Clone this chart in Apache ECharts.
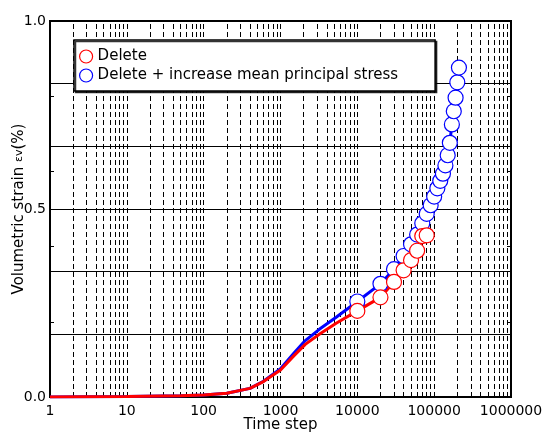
<!DOCTYPE html>
<html>
<head>
<meta charset="utf-8">
<script src="https://cdn.jsdelivr.net/npm/echarts@6/dist/echarts.min.js"></script>
<style>
  html, body { margin: 0; padding: 0; background: #fff; }
  #chart { width: 545px; height: 432px; }
</style>
</head>
<body>
<div id="chart"></div>
<script>
// curve before the markers (time step, volumetric strain %)
const redCurveX = [1, 10, 50, 100, 200, 400, 600, 1000, 1500, 2100, 3200, 5300];
const redCurveY = [0, 0.001, 0.003, 0.005, 0.010, 0.023, 0.041, 0.072, 0.110, 0.140, 0.167, 0.196];
const blueCurveX = [1, 10, 50, 100, 200, 400, 600, 1000, 1500, 2100, 3200, 5300];
const blueCurveY = [0, 0.001, 0.003, 0.005, 0.010, 0.023, 0.042, 0.075, 0.117, 0.150, 0.180, 0.212];

// marked points
const redMarkX = [10000, 20000, 30000, 40000, 50000, 60000, 70000, 80000];
const redMarkY = [0.229, 0.265, 0.306, 0.337, 0.364, 0.389, 0.428, 0.430];
const blueMarkX = [10000, 20000, 30000, 40000, 50000, 60000, 70000, 80000, 90000, 100000,
  110000, 120000, 130000, 140000, 150000, 160000, 170000, 180000, 190000, 200000, 210000];
const blueMarkY = [0.254, 0.301, 0.340, 0.375, 0.406, 0.432, 0.462, 0.487, 0.510, 0.533,
  0.555, 0.575, 0.594, 0.616, 0.643, 0.676, 0.725, 0.760, 0.796, 0.837, 0.876];

const seriesNames = ['Delete', 'Delete + increase mean principal stress'];
const yLabels = [0, 0.5, 1];

// dashed verticals at every log sub-division
const logGrid = [];
for (let d = 1; d < 1000000; d *= 10) {
  for (let k = 1; k <= 9; k++) logGrid.push(k * d);
}

const FONT = 'DejaVu Sans';
const pair = (xs, ys) => xs.map((x, i) => [x, ys[i]]);

const chart = echarts.init(document.getElementById('chart'));

const hiddenY = (extra) => Object.assign({
  type: 'value', min: 0, max: 1,
  axisLine: { show: false },
  axisTick: { show: false },
  axisLabel: { show: false },
  splitLine: { show: false }
}, extra);

chart.setOption({
  animation: false,
  grid: {
    left: 50, right: 34, top: 21, bottom: 35,
    outerBoundsMode: 'none', containLabel: false,
    show: true, borderColor: '#000', borderWidth: 2
  },
  legend: {
    data: [
      { name: seriesNames[0], icon: 'circle' },
      { name: seriesNames[1], icon: 'circle' }
    ],
    orient: 'vertical',
    left: 74, top: 40,
    itemWidth: 13, itemHeight: 13, itemGap: 4,
    padding: [9, 37, 8, 5],
    backgroundColor: '#fff',
    borderColor: '#000', borderWidth: 1.5,
    shadowColor: 'rgba(0,0,0,0.8)', shadowOffsetX: 1.5, shadowOffsetY: 1.5, shadowBlur: 0,
    itemStyle: { borderWidth: 1.2 },
    selectedMode: false,
    textStyle: { color: '#000', fontFamily: FONT, fontSize: 15, lineHeight: 15 }
  },
  xAxis: {
    type: 'log', logBase: 10, min: 1, max: 1000000, splitNumber: 6,
    axisLine: { lineStyle: { color: '#000', width: 2 } },
    axisTick: { show: false },
    splitLine: { show: false },
    axisLabel: {
      color: '#000', fontFamily: FONT, fontSize: 14, margin: 7,
      formatter: v => String(Math.round(v))
    },
    name: 'Time step', nameLocation: 'middle', nameGap: 21, nameMoveOverlap: false,
    nameTextStyle: { color: '#000', fontFamily: FONT, fontSize: 15 }
  },
  yAxis: [
    {
      type: 'value', min: 0, max: 1, interval: 0.5, position: 'left',
      axisLine: { show: true, lineStyle: { color: '#000', width: 2 } },
      axisTick: { show: false },
      splitLine: { show: false },
      axisLabel: {
        color: '#000', fontFamily: FONT, fontSize: 14, margin: 4,
        formatter: v => yLabels.includes(v) ? v.toFixed(1) : ''
      },
      name: 'Volumetric strain {s|εv}(%)', nameLocation: 'middle', nameGap: 23,
      nameMoveOverlap: false,
      nameTextStyle: {
        color: '#000', fontFamily: FONT, fontSize: 15,
        rich: { s: { color: '#000', fontFamily: FONT, fontSize: 11 } }
      }
    },
    hiddenY({ interval: 1 / 6, position: 'left',
      splitLine: { show: true, lineStyle: { color: '#000', width: 1 } } }),
    hiddenY({ interval: 0.2, position: 'left',
      axisTick: { show: true, inside: true, length: 4, lineStyle: { color: '#000' } } }),
    hiddenY({ interval: 0.2, position: 'right',
      axisTick: { show: true, inside: true, length: 4, lineStyle: { color: '#000' } } })
  ],
  series: [
    {
      name: 'grid', type: 'line', data: [], silent: true,
      markLine: {
        z: 1, silent: true, symbol: ['none', 'none'],
        label: { show: false },
        lineStyle: { color: '#000', width: 1, type: [5, 3] },
        emphasis: { disabled: true },
        data: logGrid.map(v => ({ xAxis: v }))
      }
    },
    {
      name: 'blue-line', type: 'line', z: 2, silent: true,
      data: pair(blueCurveX.concat(blueMarkX), blueCurveY.concat(blueMarkY)),
      symbol: 'none', lineStyle: { color: '#0000ff', width: 3 }
    },
    {
      name: 'red-line', type: 'line', z: 3, silent: true,
      data: pair(redCurveX.concat(redMarkX), redCurveY.concat(redMarkY)),
      symbol: 'none', lineStyle: { color: '#ff0000', width: 3 }
    },
    {
      name: seriesNames[1], type: 'scatter', z: 4, silent: true,
      data: pair(blueMarkX, blueMarkY),
      symbol: 'circle', symbolSize: 15,
      itemStyle: { color: '#fff', borderColor: '#0000ff', borderWidth: 1.2, opacity: 1 }
    },
    {
      name: seriesNames[0], type: 'scatter', z: 5, silent: true,
      data: pair(redMarkX, redMarkY),
      symbol: 'circle', symbolSize: 15,
      itemStyle: { color: '#fff', borderColor: '#ff0000', borderWidth: 1.2, opacity: 1 }
    }
  ]
});
</script>
</body>
</html>
